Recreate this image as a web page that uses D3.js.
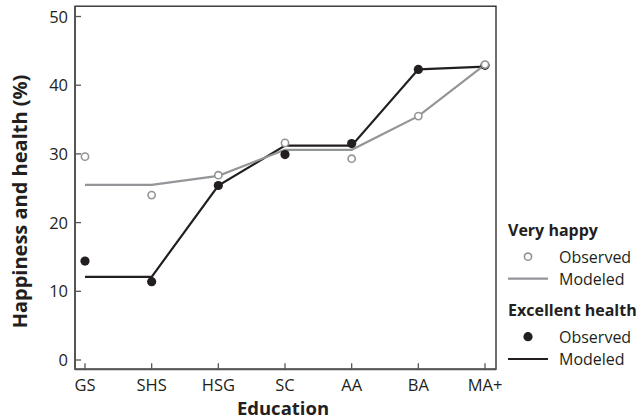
<!DOCTYPE html>
<html><head><meta charset="utf-8">
<script src="https://cdn.jsdelivr.net/npm/d3@7"></script>
<style>body{margin:0;background:#fff}svg{display:block}text{font-family:"Open Sans",sans-serif;fill:#231f20}</style>
</head><body><svg id="c" width="641" height="419"></svg>
<script>
const categories = ["GS","SHS","HSG","SC","AA","BA","MA+"];
const happyObserved = [29.6, 24.0, 26.9, 31.6, 29.3, 35.5, 43.0];
const happyModeled  = [25.5, 25.5, 26.8, 30.6, 30.6, 35.5, 43.0];
const healthObserved = [14.4, 11.4, 25.4, 29.9, 31.5, 42.3, 42.9];
const healthModeled  = [12.1, 12.1, 25.4, 31.2, 31.2, 42.3, 42.7];
const yTicks = [0, 10, 20, 30, 40, 50];

const BLACK = "#231f20", GREY = "#939598";
const svg = d3.select("#c");
const x = d3.scalePoint().domain(categories).range([85, 485]);
const y = d3.scaleLinear().domain([0, 50]).range([360, 16.5]);
const L = 75, R = 496, T = y(51.5), B = y(-1.35);
const FT = 16.5, FL = 16, FA = 18.5;

svg.append("rect").attr("x", L).attr("y", T).attr("width", R - L).attr("height", B - T)
  .attr("fill", "none").attr("stroke", BLACK).attr("stroke-width", 1.3);
svg.append("line").attr("x1", L).attr("x2", R).attr("y1", B).attr("y2", B).attr("stroke", "#555").attr("stroke-width", 2);
svg.append("line").attr("x1", L).attr("x2", L).attr("y1", T).attr("y2", B).attr("stroke", "#555").attr("stroke-width", 2);

yTicks.forEach(t => {
  svg.append("line").attr("x1", L).attr("x2", L + 6).attr("y1", y(t)).attr("y2", y(t)).attr("stroke", "#555").attr("stroke-width", 1.3);
  svg.append("text").attr("x", L - 7).attr("y", y(t) + 6).attr("text-anchor", "end").attr("font-size", FT).text(t);
});
categories.forEach(c => {
  svg.append("line").attr("x1", x(c)).attr("x2", x(c)).attr("y1", B).attr("y2", B - 6).attr("stroke", "#555").attr("stroke-width", 1.3);
  svg.append("text").attr("x", x(c)).attr("y", 390.5).attr("text-anchor", "middle").attr("font-size", FT).text(c);
});

svg.append("text").attr("x", 283).attr("y", 415).attr("text-anchor", "middle")
  .attr("font-size", FA).attr("font-weight", "bold").text("Education");
svg.append("text").attr("transform", "translate(27,201.5) rotate(-90)").attr("text-anchor", "middle")
  .attr("font-size", 20).attr("font-weight", "bold").text("Happiness and health (%)");

const line = d3.line().x((d, i) => x(categories[i])).y(d => y(d));
svg.append("path").datum(healthModeled).attr("d", line).attr("fill", "none").attr("stroke", BLACK).attr("stroke-width", 2.2);
svg.append("path").datum(happyModeled).attr("d", line).attr("fill", "none").attr("stroke", GREY).attr("stroke-width", 2.2);

svg.selectAll(".hd").data(healthObserved).enter().append("circle")
  .attr("cx", (d, i) => x(categories[i])).attr("cy", d => y(d)).attr("r", 4.6).attr("fill", BLACK);
svg.selectAll(".hp").data(happyObserved).enter().append("circle")
  .attr("cx", (d, i) => x(categories[i])).attr("cy", d => y(d)).attr("r", 3.6)
  .attr("fill", "#fff").attr("stroke", GREY).attr("stroke-width", 1.6);

const lg = svg.append("g");
lg.append("text").attr("x", 508).attr("y", 235.5).attr("font-size", FL).attr("font-weight", "bold").text("Very happy");
lg.append("circle").attr("cx", 528).attr("cy", 256.7).attr("r", 3.6).attr("fill", "#fff").attr("stroke", GREY).attr("stroke-width", 1.6);
lg.append("text").attr("x", 559).attr("y", 262.5).attr("font-size", FL).text("Observed");
lg.append("line").attr("x1", 508).attr("x2", 548).attr("y1", 278.7).attr("y2", 278.7).attr("stroke", GREY).attr("stroke-width", 2.2);
lg.append("text").attr("x", 559).attr("y", 285).attr("font-size", FL).text("Modeled");
lg.append("text").attr("x", 508).attr("y", 315.5).attr("font-size", FL).attr("font-weight", "bold").text("Excellent health");
lg.append("circle").attr("cx", 528).attr("cy", 336.7).attr("r", 4.6).attr("fill", BLACK);
lg.append("text").attr("x", 559).attr("y", 342.5).attr("font-size", FL).text("Observed");
lg.append("line").attr("x1", 508).attr("x2", 548).attr("y1", 359).attr("y2", 359).attr("stroke", BLACK).attr("stroke-width", 2.2);
lg.append("text").attr("x", 559).attr("y", 365).attr("font-size", FL).text("Modeled");
</script></body></html>
